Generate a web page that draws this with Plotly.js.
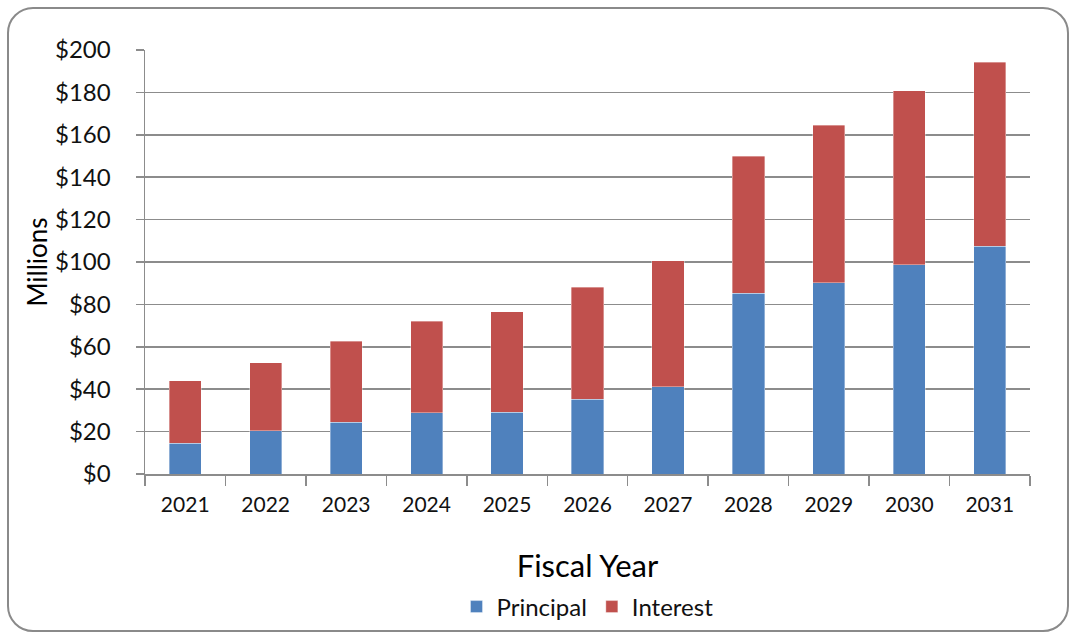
<!DOCTYPE html>
<html>
<head>
<meta charset="utf-8">
<script src="https://cdn.plot.ly/plotly-3.0.1.min.js"></script>
<style>
  html, body { margin: 0; padding: 0; background: #fff; }
  #wrap { position: relative; width: 1075px; height: 638px; }
  #chart { position: absolute; left: 0; top: 0; width: 1075px; height: 638px; }
  #frame { position: absolute; left: 7px; top: 7px; width: 1058px; height: 621px;
           border: 2px solid #8a8a8a; border-radius: 26px; pointer-events: none; }
</style>
</head>
<body>
<div id="wrap">
  <div id="chart"></div>
  <div id="frame"></div>
</div>
<script>
const years = ['2021','2022','2023','2024','2025','2026','2027','2028','2029','2030','2031'];
const principal = [14.5, 20.4, 24.4, 28.9, 29.1, 35.2, 41.2, 85.2, 90.3, 98.7, 107.5];
const interest  = [29.4, 32.1, 38.2, 43.1, 47.5, 52.9, 59.3, 64.6, 74.3, 82.0, 86.8];
const yTicks = [0, 20, 40, 60, 80, 100, 120, 140, 160, 180, 200];
const yTickLabels = ['$0', '$20', '$40', '$60', '$80', '$100', '$120', '$140', '$160', '$180', '$200'];

const FONT = 'Lato, "DejaVu Sans", sans-serif';
const GRID = '#8c8c8c';

const traces = [
  { type: 'bar', name: 'Principal', x: years, y: principal,
    marker: { color: '#4F81BD', line: { color: 'rgba(255,255,255,0.6)', width: 0.6 } } },
  { type: 'bar', name: 'Interest', x: years, y: interest,
    marker: { color: '#C0504D', line: { color: 'rgba(255,255,255,0.6)', width: 0.6 } } }
];

const layout = {
  width: 1075, height: 638,
  margin: { l: 145, r: 45, t: 50, b: 164, pad: 0 },
  paper_bgcolor: 'rgba(0,0,0,0)', plot_bgcolor: '#fff',
  barmode: 'stack', bargap: 0.6,
  font: { family: FONT, color: '#111', size: 20 },
  showlegend: true,
  legend: { orientation: 'h', x: 0.5, xanchor: 'center', yref: 'container', y: 0.0486, yanchor: 'middle',
            font: { family: FONT, size: 24, color: '#111' }, traceorder: 'normal',
            itemwidth: 30, bgcolor: 'rgba(0,0,0,0)' },
  xaxis: {
    type: 'category', tickson: 'boundaries', ticks: 'outside', ticklen: 10, tickwidth: 1.5, tickcolor: GRID,
    showline: true, linecolor: GRID, linewidth: 1.5, showgrid: false, automargin: false,
    tickfont: { family: FONT, size: 21, color: '#111' }, ticklabelstandoff: 11,
    title: { text: 'Fiscal Year', font: { family: FONT, size: 31, color: '#000' }, standoff: 42 }
  },
  yaxis: {
    range: [0, 200], tickmode: 'array', tickvals: yTicks, ticktext: yTickLabels,
    ticks: 'outside', ticklen: 8, tickwidth: 1.5, tickcolor: GRID, automargin: false,
    showline: true, linecolor: GRID, linewidth: 1.5, showgrid: true, gridcolor: GRID, gridwidth: 1.5,
    zeroline: false, tickfont: { family: FONT, size: 24, color: '#111' }, ticklabelstandoff: 20,
    title: { text: 'Millions', font: { family: FONT, size: 26, color: '#000' }, standoff: 0 }
  }
};

Plotly.newPlot('chart', traces, layout, { displayModeBar: false, staticPlot: true });
</script>
</body>
</html>
